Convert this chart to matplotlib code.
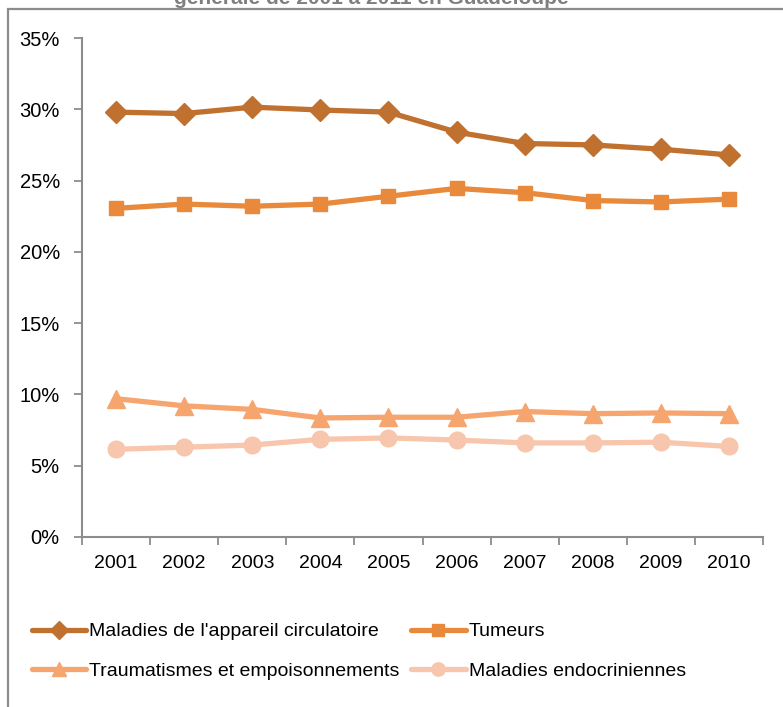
import matplotlib
matplotlib.use("Agg")
import matplotlib.pyplot as plt
from matplotlib.patches import Rectangle
from matplotlib.ticker import FixedLocator, PercentFormatter
import numpy as np

years = ["2001", "2002", "2003", "2004", "2005", "2006", "2007", "2008", "2009", "2010"]
circulatoire = [29.8, 29.7, 30.15, 29.95, 29.8, 28.4, 27.6, 27.5, 27.2, 26.8]
tumeurs = [23.05, 23.35, 23.2, 23.35, 23.9, 24.45, 24.15, 23.6, 23.5, 23.7]
traumatismes = [9.7, 9.2, 8.95, 8.35, 8.4, 8.4, 8.8, 8.65, 8.7, 8.65]
endocriniennes = [6.15, 6.3, 6.45, 6.85, 6.95, 6.8, 6.6, 6.6, 6.65, 6.35]

series_labels = ["Maladies de l'appareil circulatoire", "Tumeurs",
                 "Traumatismes et empoisonnements", "Maladies endocriniennes"]
title_line = "générale de 2001 à 2011 en Guadeloupe"
yticks = [0, 5, 10, 15, 20, 25, 30, 35]

plt.rcParams['font.family'] = ['Liberation Sans', 'DejaVu Sans']

W, H = 783, 707
fig = plt.figure(figsize=(W / 100, H / 100), dpi=100)

# outer chart frame
grey = "#8C8C8C"
fig.patches.append(Rectangle((8 / W, -0.1), 1.2, (H - 9) / H + 0.1, transform=fig.transFigure,
                             fill=False, edgecolor=grey, linewidth=1.6))

# title (second line, partly above the canvas)
fig.text(371 / W, (H - 4) / H, title_line, ha="center", va="baseline",
         fontsize=15, fontweight="bold", color="#7F7F7F")

ax = fig.add_axes([82 / W, (H - 537) / H, (763 - 82) / W, (537 - 38) / H])

x = np.arange(len(years))
styles = [
    (circulatoire, "#C0702F", "D", 11.5),
    (tumeurs, "#E8893B", "s", 10),
    (traumatismes, "#F6A56F", "^", 13),
    (endocriniennes, "#F7C6AC", "o", 12),
]
handles = []
for (vals, col, mk, ms), lab in zip(styles, series_labels):
    h, = ax.plot(x, vals, color=col, linewidth=3.8, marker=mk, markersize=ms,
                 markerfacecolor=col, markeredgecolor=col, label=lab, solid_capstyle="round")
    handles.append(h)

ax.set_xlim(-0.5, len(years) - 0.5)
ax.set_ylim(0, 35)
ax.set_yticks(yticks)
ax.yaxis.set_major_formatter(PercentFormatter(decimals=0))
ax.set_xticks(x)
ax.set_xticklabels(years)
ax.xaxis.set_minor_locator(FixedLocator(np.arange(-0.5, len(years), 1.0)))
ax.tick_params(axis="x", which="major", length=0, pad=13, labelsize=14)
ax.tick_params(axis="x", which="minor", length=6, width=1.3, color=grey)
ax.tick_params(axis="y", which="major", length=6, width=1.3, color=grey, pad=10, labelsize=14.5)

for s in ["top", "right"]:
    ax.spines[s].set_visible(False)
for s in ["left", "bottom"]:
    ax.spines[s].set_color(grey)
    ax.spines[s].set_linewidth(1.5)

# legend laid out row by row: circulatoire, tumeurs / traumatismes, endocriniennes
order = [0, 2, 1, 3]
leg = fig.legend([handles[i] for i in order], [series_labels[i] for i in order],
                 loc="upper left", bbox_to_anchor=(24 / W, (H - 615) / H), ncol=2,
                 frameon=False, fontsize=14, handlelength=2.8, handletextpad=0.15,
                 columnspacing=0.6, labelspacing=1.12, borderaxespad=0, markerscale=0.8)

fig.savefig("out.png", dpi=100)
